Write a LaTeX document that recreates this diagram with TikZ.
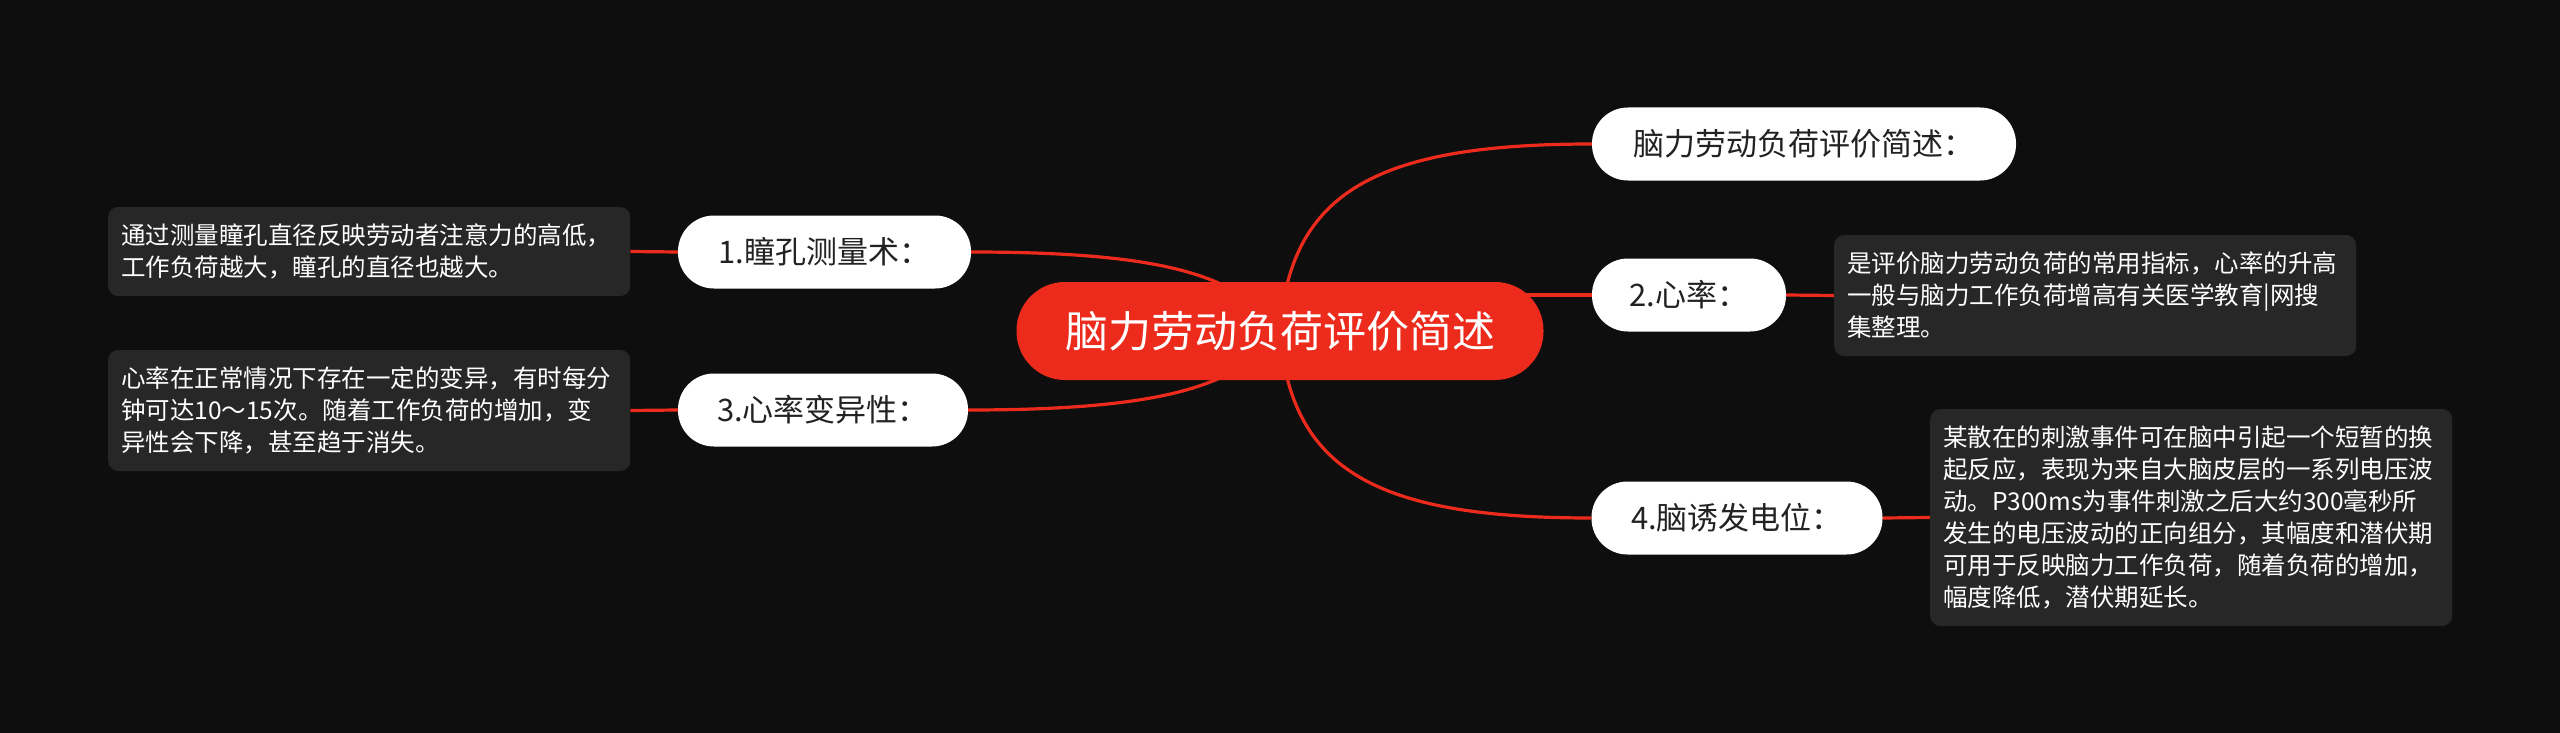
\documentclass[tikz,border=0pt]{standalone}
\usepackage{fontspec}
\setmainfont{Noto Sans CJK SC}
\definecolor{bgc}{HTML}{0E0E0E}
\definecolor{mainred}{HTML}{EC2B1C}
\definecolor{boxc}{HTML}{272727}
\definecolor{darktext}{HTML}{222222}
\pgfdeclarelayer{bglayer}
\pgfdeclarelayer{edgelayer}
\pgfsetlayers{bglayer,edgelayer,main}
\begin{document}
\begin{tikzpicture}[x=1pt,y=-1pt,
  central/.style={fill=mainred, text=white, rounded corners=48.5pt, minimum width=527pt, minimum height=98pt, font=\fontsize{43}{50}\selectfont, inner sep=0pt},
  topic/.style={fill=white, text=darktext, rounded corners=36pt, minimum height=73pt, font=\fontsize{31}{36}\selectfont, inner sep=0pt},
  note/.style={fill=boxc, text=white, rounded corners=10pt, text width=496pt, inner xsep=13pt, inner ysep=0pt, align=left, font=\fontsize{24.5}{32}\selectfont, anchor=west},
  link/.style={draw=mainred, line width=3.2pt}]
\useasboundingbox (0,0) rectangle (2560,733);
\begin{pgfonlayer}{bglayer}
  \fill[bgc] (0,0) rectangle (2560,733);
\end{pgfonlayer}

\node[central] (c) at (1280,331) {脑力劳动负荷评价简述};

\node[topic, minimum width=424pt] (t0) at (1804,144) {脑力劳动负荷评价简述：};
\node[topic, minimum width=194pt] (t2) at (1689,295) {2.心率：};
\node[topic, minimum width=291pt] (t4) at (1737,518) {4.脑诱发电位：};
\node[topic, minimum width=293pt] (t1) at (824.5,252) {1.瞳孔测量术：};
\node[topic, minimum width=290pt] (t3) at (823,410) {3.心率变异性：};

\node[note, minimum height=89pt] (d1) at (108,251.5) {通过测量瞳孔直径反映劳动者注意力的高低，\\工作负荷越大，瞳孔的直径也越大。};
\node[note, minimum height=121pt] (d3) at (108,410.5) {心率在正常情况下存在一定的变异，有时每分\\钟可达10～15次。随着工作负荷的增加，变\\异性会下降，甚至趋于消失。};
\node[note, minimum height=121pt] (d2) at (1834,295.5) {是评价脑力劳动负荷的常用指标，心率的升高\\一般与脑力工作负荷增高有关医学教育|网搜\\集整理。};
\node[note, minimum height=217pt] (d4) at (1930,517.5) {某散在的刺激事件可在脑中引起一个短暂的换\\起反应，表现为来自大脑皮层的一系列电压波\\动。P300ms为事件刺激之后大约300毫秒所\\发生的电压波动的正向组分，其幅度和潜伏期\\可用于反映脑力工作负荷，随着负荷的增加，\\幅度降低，潜伏期延长。};

\begin{pgfonlayer}{edgelayer}
  \draw[link] (c.center) .. controls +(10,-141) and +(-212,0) .. (t0.west);
  \draw[link] (c.center) .. controls +(10,141) and +(-212,0) .. (t4.west);
  \draw[link] (t2.west -| c.center) -- (t2.west);
  \draw[link] (t1.east) .. controls +(209,0) and +(-40,-51) .. (c.center);
  \draw[link] (t3.east) .. controls +(209,0) and +(-40,51) .. (c.center);
  \draw[link] (t1.west) -- (d1.east);
  \draw[link] (t3.west) -- (d3.east);
  \draw[link] (t2.east) -- (d2.west);
  \draw[link] (t4.east) -- (d4.west);
\end{pgfonlayer}
\end{tikzpicture}
\end{document}
